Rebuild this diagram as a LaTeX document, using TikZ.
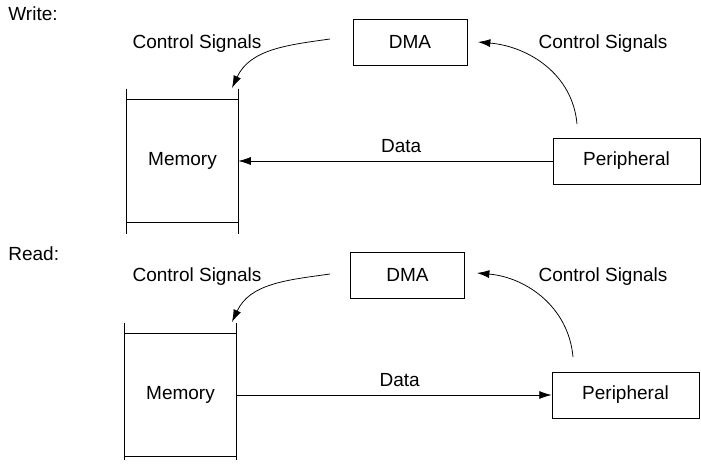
\documentclass[tikz,border=0pt]{standalone}
\usepackage{fontspec}
\setmainfont{Liberation Sans}
\usetikzlibrary{arrows.meta, positioning}
\tikzstyle{dma} = [draw, rectangle, inner sep=0pt, minimum width=60pt, minimum height=24.2pt]
\tikzstyle{memory} = [draw=none, rectangle, inner sep=0pt, minimum width=58.4pt, minimum height=64.2pt]
\tikzstyle{periph} = [draw, rectangle, inner sep=0pt, minimum width=77.3pt, minimum height=24.2pt]
\tikzstyle{label} = [inner sep=0pt]
\tikzstyle{arrow} = [-{Latex[length=6.5pt, width=4.2pt]}]

\begin{document}
\begin{tikzpicture}[x=0.526pt, y=0.526pt, font=\fontsize{10}{12}\selectfont]
    \useasboundingbox (0,0) rectangle (701,463);
    % write
    \node (write) [label, anchor=west] at (8,449) {Write:};
    \node (wdma) [dma] at (410,421) {DMA};
    \node (wmem) [memory] at (182.5,302) {Memory};
    \node (wper) [periph] at (626.5,302) {Peripheral};
    \node (wcsl) [label] at (197,419) {Control Signals};
    \node (wcsr) [label] at (603,419) {Control Signals};
    \draw (wmem.north west) -- (wmem.north east);
    \draw (wmem.south west) -- (wmem.south east);
    \draw (wmem.north west) ++(0,11) -- ([yshift=-12*0.526pt]wmem.south west);
    \draw (wmem.north east) ++(0,11) -- ([yshift=-12*0.526pt]wmem.south east);
    \coordinate (wl1) at (330,424);
    \coordinate (wl2) at (232,375);
    \coordinate (wr1) at (577,339);
    \coordinate (wr2) at (478,421);
    \draw [arrow] (wl1) to[out=188, in=65] (wl2);
    \draw [arrow] (wr1) to[out=95, in=-5] (wr2);
    \draw [arrow] (wper.west) -- node[above, label, yshift=4pt, xshift=3pt] {Data} (wmem.east);

    % read
    \node (read) [label, anchor=west] at (8,209) {Read:};
    \node (rdma) [dma] at (407.5,188) {DMA};
    \node (rmem) [memory] at (180.5,68) {Memory};
    \node (rper) [periph] at (625.5,68) {Peripheral};
    \node (rcsl) [label] at (197,186) {Control Signals};
    \node (rcsr) [label] at (603,186) {Control Signals};
    \draw (rmem.north west) -- (rmem.north east);
    \draw (rmem.south west) -- (rmem.south east);
    \draw (rmem.north west) ++(0,11) -- ([yshift=-4*0.526pt]rmem.south west);
    \draw (rmem.north east) ++(0,11) -- ([yshift=-4*0.526pt]rmem.south east);
    \coordinate (rl1) at (330,189);
    \coordinate (rl2) at (232,141);
    \coordinate (rr1) at (573,106);
    \coordinate (rr2) at (477,190);
    \draw [arrow] (rl1) to[out=188, in=65] (rl2);
    \draw [arrow] (rr1) to[out=95, in=-5] (rr2);
    \draw [arrow] (rmem.east) -- node[above, label, yshift=4pt, xshift=3pt] {Data} (rper.west);
\end{tikzpicture}
\end{document}
